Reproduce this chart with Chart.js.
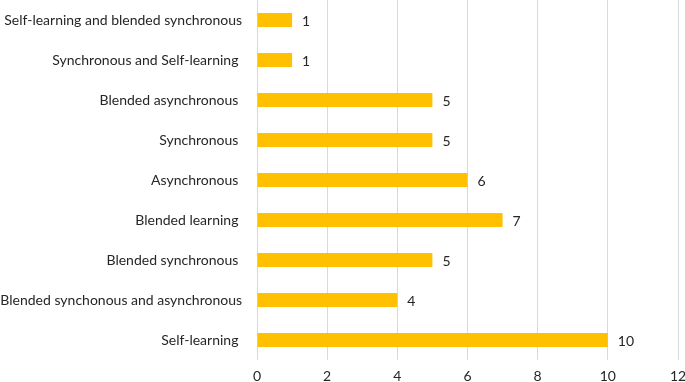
<!DOCTYPE html>
<html>
<head>
<meta charset="utf-8">
<script src="https://cdn.jsdelivr.net/npm/chart.js@4/dist/chart.umd.min.js"></script>
<style>
	html, body { margin: 0; padding: 0; background: #fff; }
	#wrap { width: 685px; height: 382px; position: relative; }
</style>
</head>
<body>
<div id="wrap"><canvas id="myChart"></canvas></div>
<script>
// категории и значения (сверху вниз)
const categories = [
	"Self-learning and blended synchronous",
	"Synchronous and Self-learning ",
	"Blended asynchronous ",
	"Synchronous ",
	"Asynchronous ",
	"Blended learning ",
	"Blended synchronous ",
	"Blended synchonous and asynchronous",
	"Self-learning ",
];
const counts = [1, 1, 5, 5, 6, 7, 5, 4, 10];
const xTicks = [0, 2, 4, 6, 8, 10, 12];

const barColor = "#FFC000";
const textColor = "#262626";
const fontFamily = "Lato, 'Open Sans', sans-serif";

// простой плагин для подписей значений справа от столбцов
const valueLabels = {
	id: "valueLabels",
	afterDatasetsDraw(chart) {
		const { ctx } = chart;
		const meta = chart.getDatasetMeta(0);
		ctx.save();
		ctx.fillStyle = textColor;
		ctx.font = "14px " + fontFamily;
		ctx.textAlign = "left";
		ctx.textBaseline = "middle";
		meta.data.forEach((bar, i) => {
			ctx.fillText(String(counts[i]), bar.x + 10, bar.y + 1);
		});
		ctx.restore();
	},
};

const ctx = document.getElementById("myChart");
new Chart(ctx, {
	type: "bar",
	data: {
		labels: categories,
		datasets: [
			{
				data: counts,
				backgroundColor: barColor,
				borderWidth: 0,
				categoryPercentage: 0.7,
				barPercentage: 0.5,
			},
		],
	},
	options: {
		indexAxis: "y",
		responsive: true,
		maintainAspectRatio: false,
		animation: false,
		layout: { padding: { top: 0, right: 7, bottom: 0, left: 0 } },
		plugins: {
			legend: { display: false },
			tooltip: { enabled: false },
		},
		scales: {
			x: {
				min: 0,
				max: 12,
				afterBuildTicks: (scale) => {
					scale.ticks = xTicks.map((v) => ({ value: v }));
				},
				afterFit: (scale) => {
					scale.height = 22;
					scale.paddingLeft = 0;
					scale.paddingRight = 0;
				},
				grid: { color: "#d9d9d9", lineWidth: 1, drawTicks: false },
				border: { display: false },
				ticks: {
					color: textColor,
					padding: 8,
					font: { family: fontFamily, size: 14 },
				},
			},
			y: {
				afterFit: (scale) => {
					scale.width = 257;
					scale.paddingTop = 0;
					scale.paddingBottom = 0;
				},
				grid: { display: false, drawTicks: false },
				border: { display: false },
				ticks: {
					color: textColor,
					padding: 15,
					font: { family: fontFamily, size: 14 },
				},
			},
		},
	},
	plugins: [valueLabels],
});
</script>
</body>
</html>
